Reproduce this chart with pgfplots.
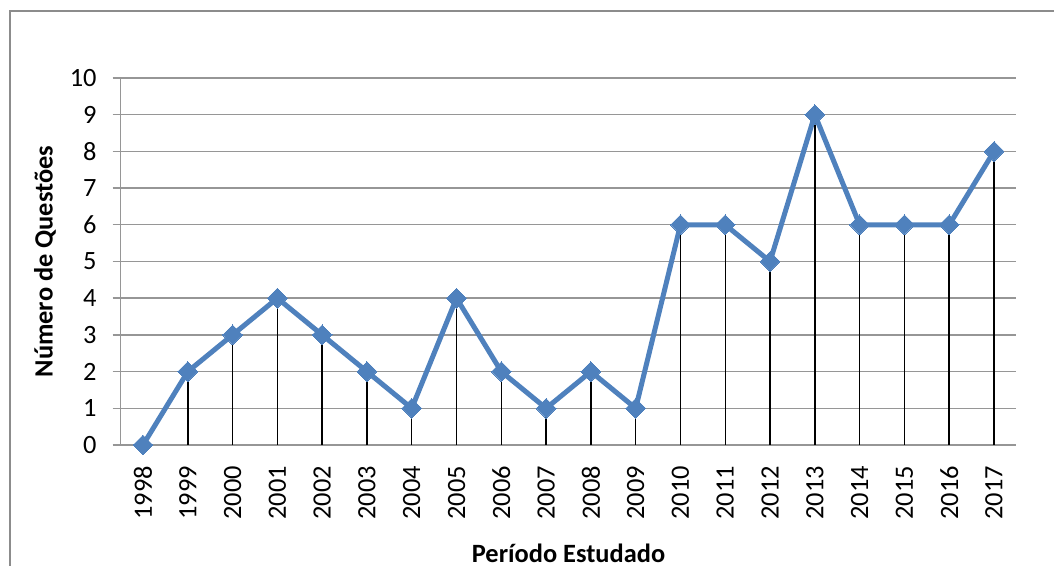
\documentclass[border=0pt]{standalone}
\usepackage{fontspec}
\setmainfont{Carlito}
\usepackage{pgfplots}
\pgfplotsset{compat=1.18}
\definecolor{serie}{HTML}{4F81BD}
\definecolor{grade}{HTML}{969696}
\definecolor{moldura}{HTML}{8C8C8C}

\begin{document}
\begin{tikzpicture}
% fixed page: 1 px of the reference = 0.5pt, plot area's lower left corner at (0,0)
\useasboundingbox (-60.3pt,-60.5pt) rectangle (466.7pt,222.5pt);
\draw[moldura, line width=1.2pt] (-55.3pt,-70pt) -- (-55.3pt,217pt) -- (480pt,217pt);
\begin{axis}[
    at={(0,0)}, anchor=south west,
    scale only axis,
    width=447.9pt, height=183.5pt,
    xmin=-0.5, xmax=19.5,
    ymin=0, ymax=10,
    ytick={0,1,...,10},
    xtick={0,1,...,19},
    xticklabels={1998,1999,2000,2001,2002,2003,2004,2005,2006,2007,2008,2009,2010,2011,2012,2013,2014,2015,2016,2017},
    x tick label style={rotate=90, anchor=east},
    major x tick style={draw=none},
    ytick style={grade, line width=0.7pt},
    tick align=outside,
    major tick length=4pt,
    ymajorgrids,
    grid style={grade, line width=0.7pt},
    axis x line*=bottom, axis y line*=left,
    x axis line style={grade, line width=0.7pt, -},
    y axis line style={grade, line width=0.7pt, -},
    xticklabel shift=3pt,
    yticklabel shift=4.5pt,
    tick label style={font=\fontsize{13.2}{15}\selectfont},
    /pgf/number format/assume math mode=true,
    xlabel={\textbf{Período Estudado}},
    ylabel={\textbf{Número de Questões}},
    label style={font=\fontsize{13.2}{15}\selectfont},
    xlabel style={at={(axis description cs:0.5,-0.2943)}, anchor=center},
    ylabel style={at={(axis description cs:-0.0844,0.5)}, anchor=center},
    clip=false,
]
\addplot[serie, line width=2.5pt, mark=square*, mark size=3.5pt,
    mark options={rotate=45, fill=serie, draw=serie, line width=0pt}]
coordinates {
    (0,0) (1,2) (2,3) (3,4) (4,3) (5,2) (6,1) (7,4) (8,2) (9,1)
    (10,2) (11,1) (12,6) (13,6) (14,5) (15,9) (16,6) (17,6) (18,6) (19,8)
};
% drop lines
\addplot[black, line width=0.75pt, ycomb, mark=none]
coordinates {
    (0,0) (1,2) (2,3) (3,4) (4,3) (5,2) (6,1) (7,4) (8,2) (9,1)
    (10,2) (11,1) (12,6) (13,6) (14,5) (15,9) (16,6) (17,6) (18,6) (19,8)
};
\end{axis}
\end{tikzpicture}
\end{document}
